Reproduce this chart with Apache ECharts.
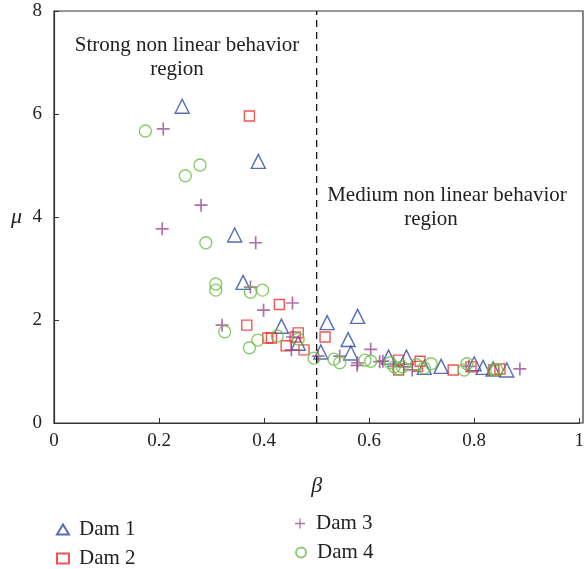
<!DOCTYPE html>
<html>
<head>
<meta charset="utf-8">
<script src="https://cdn.jsdelivr.net/npm/echarts@6/dist/echarts.min.js"></script>
<style>
  html, body { margin: 0; padding: 0; background: #fff; }
  #chart { width: 587px; height: 569px; }
</style>
</head>
<body>
<div id="chart"></div>
<script>
// 数据：[β, μ]
const dam1 = [[0.244, 6.15], [0.389, 5.08], [0.344, 3.65], [0.36, 2.73], [0.433, 1.88], [0.465, 1.55],
  [0.508, 1.38], [0.52, 1.95], [0.56, 1.62], [0.565, 1.36], [0.578, 2.07], [0.637, 1.28], [0.671, 1.28],
  [0.705, 1.08], [0.737, 1.1], [0.8, 1.15], [0.817, 1.08], [0.836, 1.05], [0.862, 1.03]]
const dam2 = [[0.372, 5.96], [0.367, 1.9], [0.407, 1.65], [0.414, 1.65], [0.429, 2.3], [0.442, 1.5],
  [0.459, 1.67], [0.465, 1.75], [0.476, 1.42], [0.516, 1.67], [0.656, 1.22], [0.656, 1.03], [0.692, 1.1],
  [0.697, 1.2], [0.76, 1.03], [0.794, 1.09], [0.837, 1.03], [0.849, 1.05]]
const dam3 = [[0.206, 3.77], [0.208, 5.71], [0.28, 4.23], [0.32, 1.9], [0.374, 2.64], [0.384, 3.5],
  [0.399, 2.19], [0.454, 2.33], [0.454, 1.67], [0.452, 1.42], [0.503, 1.3], [0.544, 1.3], [0.578, 1.17],
  [0.577, 1.12], [0.603, 1.43], [0.62, 1.19], [0.626, 1.2], [0.646, 1.1], [0.667, 1.09], [0.682, 1.03],
  [0.79, 1.1], [0.887, 1.05]]
const dam4 = [[0.174, 5.67], [0.25, 4.8], [0.278, 5.01], [0.289, 3.5], [0.308, 2.7], [0.308, 2.58],
  [0.325, 1.77], [0.372, 1.46], [0.374, 2.54], [0.388, 1.61], [0.397, 2.58], [0.425, 1.69], [0.465, 1.63],
  [0.495, 1.26], [0.533, 1.24], [0.544, 1.17], [0.592, 1.22], [0.603, 1.2], [0.64, 1.17], [0.648, 1.09],
  [0.657, 1.05], [0.663, 1.09], [0.69, 1.13], [0.705, 1.07], [0.718, 1.15], [0.781, 1.03], [0.786, 1.15],
  [0.837, 1.03], [0.843, 1.03]]
const divider = [[0.5, 0], [0.5, 8]]
const xTicks = ['0', '0.2', '0.4', '0.6', '0.8', '1']

const serif = '"Liberation Serif", "DejaVu Serif", serif'
const plusPath = 'path://M4.35,0h1.3v10h-1.3z M0,4.35h10v1.3h-10z'

function scatter (name, data, symbol, size, color, filled) {
  return {
    name,
    type: 'scatter',
    data,
    symbol,
    symbolSize: size,
    itemStyle: filled
      ? { color }
      : { color: 'rgba(0,0,0,0)', borderColor: color, borderWidth: 1.4 },
    emphasis: { disabled: true }
  }
}

function note (text, x, y) {
  return { type: 'text', x, y, silent: true,
    style: { text, fontFamily: serif, fontSize: 21, fill: '#222', align: 'center', verticalAlign: 'middle' } }
}

// 每个图例单独摆放
function legendItem (name, left, top) {
  return {
    data: [name], left, top, itemWidth: 12, itemHeight: 10, itemGap: 0,
    textStyle: { fontFamily: serif, fontSize: 21, color: '#222', padding: [0, 0, 0, 5] }
  }
}

const chart = echarts.init(document.getElementById('chart'))
chart.setOption({
  animation: false,
  grid: { left: 54, top: 11, right: 4, bottom: 146 },
  xAxis: {
    type: 'value', min: 0, max: 1, interval: 0.2,
    name: 'β', nameLocation: 'middle', nameGap: 52,
    nameTextStyle: { fontFamily: serif, fontSize: 22, fontStyle: 'italic', color: '#222' },
    axisLine: { show: true, lineStyle: { color: '#333', width: 1.2 } },
    axisTick: { inside: true, length: 5, lineStyle: { color: '#333' } },
    axisLabel: { fontFamily: serif, fontSize: 19, color: '#222', margin: 9,
      formatter: v => xTicks[Math.round(v * 5)] },
    splitLine: { show: false }
  },
  yAxis: {
    type: 'value', min: 0, max: 8, interval: 2,
    name: 'μ', nameLocation: 'middle', nameGap: 32, nameRotate: 0,
    nameTextStyle: { fontFamily: serif, fontSize: 22, fontStyle: 'italic', color: '#222' },
    axisLine: { show: true, lineStyle: { color: '#333', width: 1.2 } },
    axisTick: { inside: true, length: 5, lineStyle: { color: '#333' } },
    axisLabel: { fontFamily: serif, fontSize: 19, color: '#222', margin: 12 },
    splitLine: { show: false }
  },
  legend: [
    legendItem('Dam 1', 51, 514),
    legendItem('Dam 2', 51, 543),
    legendItem('Dam 3', 290, 508),
    legendItem('Dam 4', 290, 537)
  ],
  graphic: [
    { type: 'rect', shape: { x: 54, y: 11, width: 529, height: 412 }, silent: true,
      style: { fill: 'none', stroke: '#333', lineWidth: 1.2 } },
    note('Strong non linear behavior', 187, 45),
    note('region', 177, 69),
    note('Medium non linear behavior', 447, 195),
    note('region', 431, 219)
  ],
  series: [
    scatter('Dam 1', dam1, 'triangle', 14, '#2a4aa3', false),
    scatter('Dam 2', dam2, 'rect', 10, '#ee2b2b', false),
    scatter('Dam 3', dam3, plusPath, 13, '#9c4c96', true),
    scatter('Dam 4', dam4, 'circle', 12, '#6cbf45', false),
    {
      type: 'line', data: divider, symbol: 'none', silent: true,
      lineStyle: { color: '#111', width: 1.3, type: [7, 5] }
    }
  ]
})
</script>
</body>
</html>
